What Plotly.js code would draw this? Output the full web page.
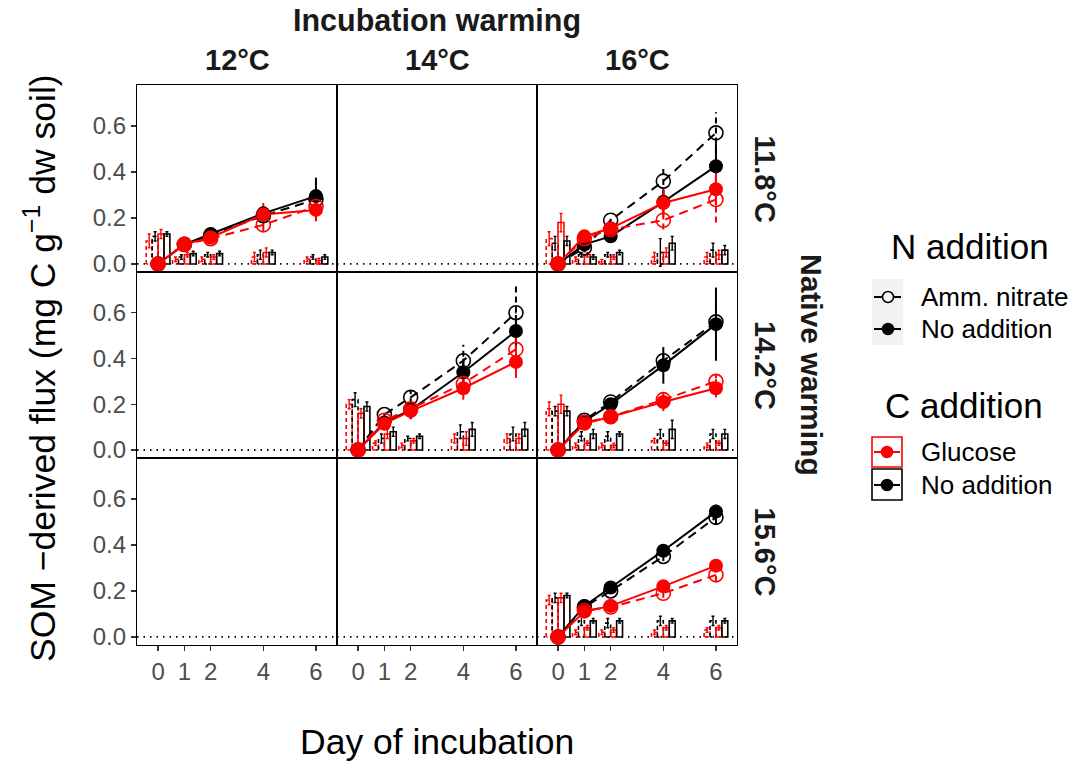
<!DOCTYPE html>
<html><head><meta charset="utf-8">
<script src="https://cdn.plot.ly/plotly-3.0.1.min.js"></script>
<style>html,body{margin:0;padding:0;background:#fff}</style>
</head><body><div id="chart" style="width:1074px;height:762px"></div>
<script>
// ---------- data ----------
const days = [0, 1, 2, 4, 6];
const xTickLabels = ['0', '1', '2', '4', '6'];
const yTickVals = [0, 0.2, 0.4, 0.6];
const yTickLabels = ['0.0', '0.2', '0.4', '0.6'];
const colLabels = ['12°C', '14°C', '16°C'];
const rowLabels = ['11.8°C', '14.2°C', '15.6°C'];
// panels that contain data: (row, col)
const panelRow = [0, 0, 1, 1, 2];
const panelCol = [0, 2, 1, 2, 2];

// SOM-derived flux (points), one row per panel, values at days
const ptAmmGlu = [[0,0.085,0.11,0.17,0.25],[0,0.11,0.15,0.19,0.28],[0,0.13,0.18,0.29,0.44],[0,0.12,0.145,0.22,0.30],[0,0.115,0.13,0.19,0.27]];
const ptAmmGluErr = [[0,0.01,0.01,0.03,0.03],[0,0.02,0.02,0.04,0.10],[0,0.02,0.02,0.03,0.05],[0,0.01,0.01,0.02,0.03],[0,0.01,0.01,0.02,0.03]];
const ptAmmNoC = [[0,0.085,0.125,0.21,0.28],[0,0.07,0.19,0.36,0.57],[0,0.155,0.23,0.39,0.60],[0,0.13,0.21,0.39,0.56],[0,0.13,0.20,0.35,0.52]];
const ptAmmNoCErr = [[0,0.01,0.01,0.02,0.03],[0,0.02,0.02,0.06,0.09],[0,0.02,0.03,0.07,0.13],[0,0.01,0.02,0.03,0.05],[0,0.01,0.01,0.02,0.03]];
const ptNoNGlu = [[0,0.085,0.115,0.215,0.235],[0,0.12,0.155,0.265,0.325],[0,0.115,0.17,0.27,0.385],[0,0.115,0.145,0.21,0.27],[0,0.11,0.135,0.22,0.31]];
const ptNoNGluErr = [[0,0.01,0.02,0.05,0.05],[0,0.02,0.03,0.06,0.07],[0,0.02,0.02,0.05,0.07],[0,0.02,0.01,0.04,0.04],[0,0.02,0.01,0.02,0.02]];
const ptNoNNoC = [[0,0.085,0.13,0.22,0.295],[0,0.085,0.12,0.27,0.425],[0,0.12,0.175,0.34,0.52],[0,0.125,0.20,0.37,0.55],[0,0.135,0.215,0.375,0.545]];
const ptNoNNoCErr = [[0,0.01,0.01,0.03,0.08],[0,0.03,0.02,0.05,0.10],[0,0.02,0.04,0.06,0.07],[0,0.01,0.02,0.08,0.16],[0,0.01,0.01,0.02,0.03]];

// bars, one row per panel, values at days
const barAmmGlu = [[0.10,0.02,0.02,0.03,0.02],[0.11,0.02,0.01,0.03,0.03],[0.20,0.03,0.02,0.05,0.05],[0.18,0.02,0.02,0.04,0.02],[0.16,0.02,0.02,0.02,0.03]];
const barAmmGluErr = [[0.03,0.01,0.01,0.02,0.01],[0.03,0.01,0.01,0.02,0.02],[0.02,0.01,0.01,0.02,0.02],[0.03,0.01,0.01,0.01,0.01],[0.02,0.01,0.01,0.01,0.01]];
const barAmmNoC = [[0.12,0.03,0.04,0.04,0.03],[0.09,0.04,0.04,0.05,0.06],[0.22,0.05,0.05,0.08,0.07],[0.17,0.06,0.06,0.07,0.07],[0.17,0.07,0.06,0.07,0.07]];
const barAmmNoCErr = [[0.02,0.01,0.01,0.02,0.01],[0.03,0.01,0.01,0.06,0.03],[0.03,0.02,0.01,0.03,0.03],[0.02,0.02,0.02,0.02,0.02],[0.02,0.02,0.02,0.02,0.02]];
const barNoNGlu = [[0.13,0.04,0.03,0.05,0.015],[0.18,0.04,0.03,0.05,0.04],[0.16,0.07,0.04,0.05,0.05],[0.20,0.03,0.02,0.03,0.03],[0.17,0.04,0.03,0.04,0.04]];
const barNoNGluErr = [[0.02,0.01,0.01,0.02,0.01],[0.04,0.01,0.01,0.02,0.02],[0.02,0.02,0.01,0.03,0.02],[0.04,0.01,0.01,0.01,0.01],[0.02,0.01,0.01,0.01,0.01]];
const barNoNNoC = [[0.13,0.045,0.045,0.05,0.03],[0.10,0.03,0.05,0.09,0.06],[0.19,0.08,0.06,0.09,0.09],[0.17,0.07,0.07,0.09,0.07],[0.18,0.07,0.07,0.07,0.07]];
const barNoNNoCErr = [[0.01,0.01,0.01,0.01,0.01],[0.02,0.01,0.01,0.03,0.02],[0.02,0.02,0.01,0.03,0.03],[0.02,0.02,0.01,0.04,0.02],[0.01,0.01,0.01,0.01,0.01]];

// ---------- styles ----------
const RED = '#FF0000', BLK = '#000000';
const series = [
  {pt: ptAmmGlu, pe: ptAmmGluErr, bar: barAmmGlu, be: barAmmGluErr, color: RED, dash: true, open: true},
  {pt: ptAmmNoC, pe: ptAmmNoCErr, bar: barAmmNoC, be: barAmmNoCErr, color: BLK, dash: true, open: true},
  {pt: ptNoNGlu, pe: ptNoNGluErr, bar: barNoNGlu, be: barNoNGluErr, color: RED, dash: false, open: false},
  {pt: ptNoNNoC, pe: ptNoNNoCErr, bar: barNoNNoC, be: barNoNNoCErr, color: BLK, dash: false, open: false}
];
const dodge = 0.9, nS = 4, bw = dodge / nS;
const pointOrder = [1, 3, 0, 2];

const W = 1074, H = 762;
const px = x => x / W, py = y => 1 - y / H;
const L = 137, CW = 200;
const rowEdges = [85, 272, 458, 645];
const FONT = 'Liberation Sans, Arial, sans-serif';
const suf = n => (n === 1 ? '' : String(n));

const layout = {
  width: W, height: H, autosize: false,
  margin: {l: 0, r: 0, t: 0, b: 0},
  paper_bgcolor: '#fff', plot_bgcolor: 'rgba(0,0,0,0)',
  showlegend: false,
  font: {family: FONT, color: '#000'},
  shapes: [], annotations: []
};

for (let r = 0; r < 3; r++) {
  for (let c = 0; c < 3; c++) {
    const n = r * 3 + c + 1, s = suf(n);
    layout['xaxis' + s] = {
      domain: [px(L + c * CW), px(L + (c + 1) * CW)], anchor: 'y' + s,
      range: [-0.8, 6.8], showline: true, mirror: true, linecolor: '#000', linewidth: 1.2,
      showgrid: false, zeroline: false, tickmode: 'array', tickvals: days, ticktext: xTickLabels,
      ticks: r === 2 ? 'outside' : '', showticklabels: r === 2, ticklen: 5, tickwidth: 1.3,
      tickcolor: '#333', tickfont: {size: 24, color: '#4D4D4D', family: FONT}, fixedrange: true
    };
    layout['yaxis' + s] = {
      domain: [py(rowEdges[r + 1]), py(rowEdges[r])], anchor: 'x' + s,
      range: [-0.035, 0.778], showline: true, mirror: true, linecolor: '#000', linewidth: 1.2,
      showgrid: false, zeroline: false, tickmode: 'array', tickvals: yTickVals, ticktext: yTickLabels,
      ticks: c === 0 ? 'outside' : '', showticklabels: c === 0, ticklen: 5, tickwidth: 1.3,
      tickcolor: '#333', tickfont: {size: 24, color: '#4D4D4D', family: FONT}, fixedrange: true
    };
    // dotted zero line in every panel
    layout.shapes.push({type: 'line', xref: 'x' + s + ' domain', yref: 'y' + s,
      x0: 0, x1: 1, y0: 0, y1: 0, line: {color: '#000', width: 1.8, dash: '1.5px,5px'}, layer: 'below'});
  }
}

const traces = [];
for (let p = 0; p < panelRow.length; p++) {
  const n = panelRow[p] * 3 + panelCol[p] + 1, s = suf(n);
  const xa = 'x' + s, ya = 'y' + s;
  // bars as outlined rectangles (dodged)
  series.forEach((S, k) => {
    const off = -dodge / 2 + bw * (k + 0.5);
    const xs = [], ys = [], ex = [];
    days.forEach((d, i) => {
      const x0 = d + off - bw / 2, x1 = d + off + bw / 2, h = S.bar[p][i];
      xs.push(x0, x0, x1, x1, x0, null);
      ys.push(0, h, h, 0, 0, null);
      ex.push(d + off);
    });
    traces.push({type: 'scatter', mode: 'lines', x: xs, y: ys, xaxis: xa, yaxis: ya,
      line: {color: S.color, width: 1.6, dash: S.dash ? '4px,3px' : 'solid'}, hoverinfo: 'skip'});
    traces.push({type: 'scatter', mode: 'markers', x: ex, y: S.bar[p], xaxis: xa, yaxis: ya,
      marker: {size: 1, color: 'rgba(0,0,0,0)'},
      error_y: {type: 'data', array: S.be[p], visible: true, color: S.color, thickness: 1.4, width: 1.5},
      hoverinfo: 'skip'});
  });
  // point error bars
  pointOrder.forEach(k => {
    const S = series[k];
    const xs = [], ys = [];
    days.forEach((d, i) => {
      const m = S.pt[p][i], e = S.pe[p][i];
      if (e > 0) { xs.push(d, d, null); ys.push(m - e, m + e, null); }
    });
    traces.push({type: 'scatter', mode: 'lines', x: xs, y: ys, xaxis: xa, yaxis: ya,
      line: {color: S.color, width: 2, dash: S.dash ? '6px,4px' : 'solid'}, hoverinfo: 'skip'});
  });
  // lines + points
  pointOrder.forEach(k => {
    const S = series[k];
    traces.push({type: 'scatter', mode: 'lines+markers', x: days, y: S.pt[p], xaxis: xa, yaxis: ya,
      line: {color: S.color, width: 2, dash: S.dash ? '9px,6px' : 'solid'},
      marker: {symbol: S.open ? 'circle-open' : 'circle', size: 14, color: S.color,
        line: {color: S.color, width: S.open ? 1.6 : 0}}, hoverinfo: 'skip'});
  });
}

// ---------- text ----------
const ann = (text, x, y, size, opts = {}) => layout.annotations.push(Object.assign({
  text, x: px(x), y: py(y), xref: 'paper', yref: 'paper', showarrow: false,
  xanchor: 'center', yanchor: 'middle', font: {size, family: FONT, color: '#000'}}, opts));

const stripFont = sz => ({size: sz, family: FONT, color: '#1A1A1A'});
ann('<b>Incubation warming</b>', 437, 20, 30.5, {font: stripFont(30.5)});
colLabels.forEach((t, c) => ann('<b>' + t + '</b>', L + (c + 0.5) * CW, 60, 29, {font: stripFont(29)}));
rowLabels.forEach((t, r) => ann('<b>' + t + '</b>', 765, (rowEdges[r] + rowEdges[r + 1]) / 2, 29, {textangle: 90, font: stripFont(29)}));
ann('<b>Native warming</b>', 812, 365, 30, {textangle: 90, font: stripFont(30)});
ann('SOM −derived flux (mg C g<sup>−1</sup> dw soil)', 40, 368, 35.5, {textangle: -90});
ann('Day of incubation', 437, 742, 35.5);

// ---------- legend ----------
ann('N addition', 970, 246, 35);
ann('C addition', 964, 405, 35);
const legLabels = [['Amm. nitrate', 297], ['No addition', 329], ['Glucose', 452], ['No addition', 485]];
legLabels.forEach(([t, y]) => ann(t, 919, y, 26, {xanchor: 'left'}));
const rect = (x0, y0, x1, y1, fill, lineColor) => layout.shapes.push({type: 'rect', xref: 'paper', yref: 'paper',
  x0: px(x0), x1: px(x1), y0: py(y1), y1: py(y0), fillcolor: fill, line: {color: lineColor || 'rgba(0,0,0,0)', width: lineColor ? 1.6 : 0}});
const seg = (x0, x1, y, color, w) => layout.shapes.push({type: 'line', xref: 'paper', yref: 'paper',
  x0: px(x0), x1: px(x1), y0: py(y), y1: py(y), line: {color, width: w || 2}});
const circ = (cx, cy, rr, color, open) => layout.shapes.push({type: 'circle', xref: 'paper', yref: 'paper',
  x0: px(cx - rr), x1: px(cx + rr), y0: py(cy + rr), y1: py(cy - rr),
  fillcolor: open ? '#F2F2F2' : color, line: {color, width: 1.5}});
rect(872, 279, 903, 345, '#F2F2F2');
seg(874, 882, 297, BLK); seg(894, 901, 297, BLK); circ(888, 297, 5.5, BLK, true);
seg(874, 901, 329, BLK); circ(888, 329, 5.5, BLK, false);
rect(872, 437, 902, 467, '#fff', RED);
seg(874, 900, 452, RED); circ(887, 452, 5.5, RED, false);
rect(872, 469, 902, 500, '#fff', BLK);
seg(874, 900, 485, BLK); circ(887, 485, 5.5, BLK, false);

Plotly.newPlot('chart', traces, layout, {displayModeBar: false, staticPlot: true});
</script></body></html>
